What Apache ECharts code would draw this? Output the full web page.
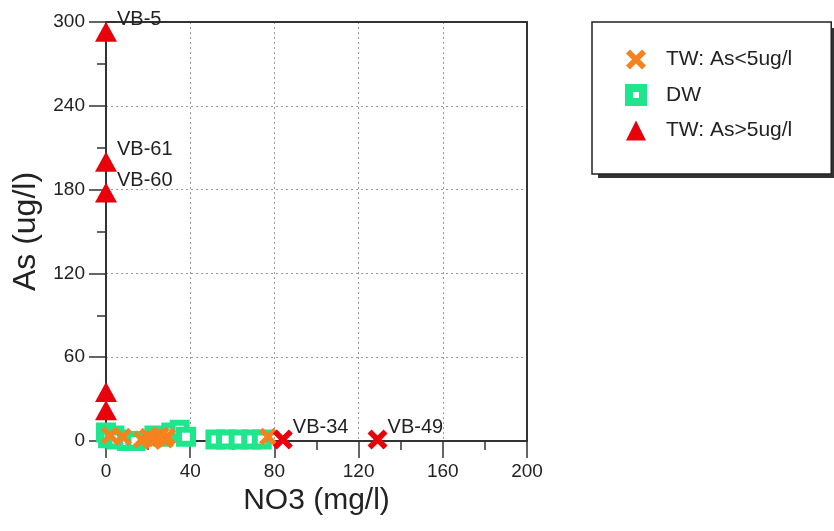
<!DOCTYPE html>
<html>
<head>
<meta charset="utf-8">
<script src="https://cdn.jsdelivr.net/npm/echarts@6/dist/echarts.min.js"></script>
<style>
  html, body { margin: 0; padding: 0; background: #fff; }
  #chart { width: 834px; height: 531px; }
</style>
</head>
<body>
<div id="chart"></div>
<script>
// Nitrate vs. arsenic in tube wells (TW) and dug wells (DW)

// [NO3 mg/l, As ug/l]
const dwPoints = [[0, 6], [1, 2], [4, 4], [5, 1], [10, 0], [14, 0], [23, 4], [27, 3], [31, 6], [35, 8], [38, 3],
                  [52, 1], [57, 1], [63, 1], [69, 1], [74, 1]];
const twLowPoints = [[2, 4], [8, 3], [17, 1], [20, 3], [22, 0], [24, 2], [26, 4], [28, 1], [29, 3], [77, 3]];
const twHighPoints = [[0, 293], [0, 200], [0, 178], [0, 35], [0, 22]];
const twHighNames = ['VB-5', 'VB-61', 'VB-60', '', ''];
const highNitratePoints = [[84, 1], [129, 1]];
const highNitrateNames = ['VB-34', 'VB-49'];

const seriesNames = ['TW: As<5ug/l', 'DW', 'TW: As>5ug/l'];
const xTicks = { min: 0, max: 200, step: 40 };
const yTicks = { min: 0, max: 300, step: 60 };

const FONT = '"Liberation Sans", Arial, sans-serif';
const ORANGE = '#f5821f';
const GREEN = '#1ee68c';
const RED = '#e8000b';
const FRAME = '#333';
const CROSS = 'path://M0,4 L4,0 L10,6 L16,0 L20,4 L14,10 L20,16 L16,20 L10,14 L4,20 L0,16 L6,10 Z';
const HOLLOW_SQUARE = 'path://M0,0 H20 V20 H0 Z M6,6 V14 H14 V6 Z';

const named = (pts, names) => pts.map((p, i) => ({ value: p, name: names[i] }));

const pointLabel = {
  show: true,
  position: 'right',
  distance: 0,
  offset: [0, -12],
  formatter: p => p.name,
  color: '#222',
  fontSize: 20,
  fontFamily: FONT
};

const axisCommon = {
  type: 'value',
  axisLine: { show: true, onZero: false, lineStyle: { color: FRAME, width: 2 } },
  axisTick: { show: true, inside: false, length: 17, lineStyle: { color: FRAME, width: 1.5 } },
  minorTick: { show: true, splitNumber: 2, length: 9, lineStyle: { color: FRAME, width: 1.5 } },
  splitLine: { show: true, lineStyle: { color: '#999', width: 1, type: [2, 3] } },
  axisLabel: { color: '#222', fontSize: 19, fontFamily: FONT, margin: 21 },
  nameLocation: 'middle'
};

// plain frame lines along the top and right edges of the plot
const frameAxis = (position, range) => ({
  type: 'value', position, min: range.min, max: range.max, interval: range.step,
  axisLine: { show: true, onZero: false, lineStyle: { color: FRAME, width: 2 } },
  axisTick: { show: false }, minorTick: { show: false },
  axisLabel: { show: false }, splitLine: { show: false }
});

const chart = echarts.init(document.getElementById('chart'));
chart.setOption({
  animation: false,
  backgroundColor: '#fff',
  grid: { left: 106, top: 22, right: 307, bottom: 90 },
  xAxis: [
    Object.assign({}, axisCommon, {
      position: 'bottom',
      min: xTicks.min, max: xTicks.max, interval: xTicks.step,
      name: 'NO3 (mg/l)', nameGap: 42,
      nameTextStyle: { color: '#222', fontSize: 30, fontFamily: FONT }
    }),
    frameAxis('top', xTicks)
  ],
  yAxis: [
    Object.assign({}, axisCommon, {
      position: 'left',
      min: yTicks.min, max: yTicks.max, interval: yTicks.step,
      name: 'As (ug/l)', nameGap: 62,
      nameTextStyle: { color: '#222', fontSize: 32, fontFamily: FONT }
    }),
    frameAxis('right', yTicks)
  ],
  graphic: [{
    // hard drop shadow behind the legend box
    type: 'rect', z: 0, silent: true,
    shape: { x: 598, y: 28, width: 240, height: 150 },
    style: { fill: '#333' }
  }],
  legend: {
    left: 592, top: 22, z: 5,
    orient: 'vertical',
    padding: [27, 39, 33, 33],
    itemGap: 14,
    itemWidth: 20, itemHeight: 20,
    backgroundColor: '#fff',
    borderColor: '#222', borderWidth: 1.5, borderRadius: 0,
    textStyle: { color: '#222', fontSize: 21, fontFamily: FONT, padding: [0, 0, 0, 15] },
    data: [
      { name: seriesNames[0], icon: CROSS, itemStyle: { color: ORANGE } },
      { name: seriesNames[1], icon: HOLLOW_SQUARE, itemStyle: { color: GREEN } },
      { name: seriesNames[2], icon: 'triangle', itemStyle: { color: RED } }
    ]
  },
  series: [
    {
      name: seriesNames[1], type: 'scatter',
      symbol: 'rect', symbolSize: 14,
      itemStyle: { color: '#fff', borderColor: GREEN, borderWidth: 6, opacity: 1 },
      data: dwPoints
    },
    {
      name: seriesNames[0], type: 'scatter',
      symbol: CROSS, symbolSize: 18,
      itemStyle: { color: ORANGE, opacity: 1 },
      data: twLowPoints
    },
    {
      name: seriesNames[2], type: 'scatter',
      symbol: 'triangle', symbolSize: [22, 20],
      itemStyle: { color: RED, opacity: 1 },
      label: pointLabel,
      data: named(twHighPoints, twHighNames)
    },
    {
      name: 'high-nitrate TW', type: 'scatter',
      symbol: CROSS, symbolSize: 20,
      itemStyle: { color: RED, opacity: 1 },
      label: pointLabel,
      data: named(highNitratePoints, highNitrateNames)
    }
  ]
});
</script>
</body>
</html>
